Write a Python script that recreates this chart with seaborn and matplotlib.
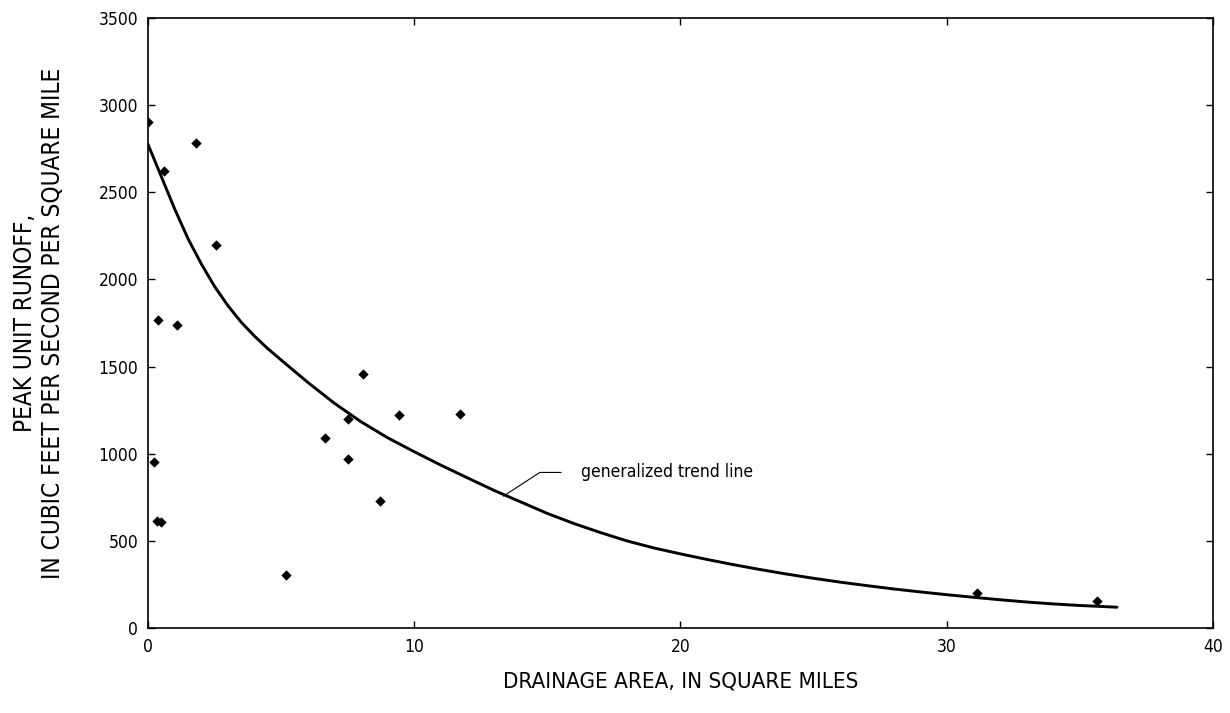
import seaborn as sns
import matplotlib.pyplot as plt
import pandas as pd

# observed sites
area = [0.0, 1.81, 0.60, 2.54, 0.36, 1.09, 8.08, 7.50, 9.43, 11.72, 6.64, 7.50,
        0.23, 8.70, 0.34, 0.49, 5.18, 31.16, 35.66]
runoff = [2900, 2780, 2620, 2200, 1770, 1740, 1460, 1200, 1220, 1230, 1090, 970,
          950, 730, 615, 610, 305, 200, 157]

# generalized trend line
trend_x = [0, 0.5, 1.0, 1.5, 2.0, 2.5, 3.0, 3.5, 4.0, 4.5, 5, 6, 7, 8, 9, 10,
           11, 12, 13, 14, 15, 16, 17, 18, 19, 20, 21, 22, 23, 24, 25, 26, 27,
           28, 29, 30, 31, 32, 33, 34, 35, 36, 36.4]
trend_y = [2775, 2590, 2405, 2235, 2090, 1960, 1850, 1755, 1675, 1603, 1538, 1410,
           1290, 1184, 1092, 1012, 935, 862, 790, 724, 658, 600, 548, 500, 460,
           426, 394, 364, 336, 310, 286, 264, 244, 225, 208, 192, 177, 163, 150,
           139, 130, 123, 120]

obs = pd.DataFrame({'area': area, 'runoff': runoff})
trend = pd.DataFrame({'area': trend_x, 'runoff': trend_y})

sns.set_style('ticks')
plt.rcParams['font.family'] = ['DejaVu Sans']
plt.rcParams['font.stretch'] = 'condensed'
plt.rcParams['text.color'] = 'black'
plt.rcParams['axes.labelcolor'] = 'black'

fig = plt.figure(figsize=(12.3, 7.13), dpi=100)
ax = fig.add_axes([0.1203, 0.119, 0.8657, 0.856])

sns.lineplot(data=trend, x='area', y='runoff', color='black', linewidth=2.1,
             sort=False, ax=ax)
sns.scatterplot(data=obs, x='area', y='runoff', marker='D', s=28, color='black',
                edgecolor='black', linewidth=0, ax=ax, zorder=3)

ax.set_xlim(0, 40)
ax.set_ylim(0, 3500)
ax.set_xticks([0, 10, 20, 30, 40])
ax.set_yticks(range(0, 3501, 500))
ax.tick_params(direction='in', top=True, right=True, length=5, width=1,
               labelsize=12.5, colors='black', pad=7)
for sp in ax.spines.values():
    sp.set_linewidth(1.2)
    sp.set_color('black')

ax.set_xlabel('DRAINAGE AREA, IN SQUARE MILES', fontsize=16, labelpad=11)
ax.set_ylabel('PEAK UNIT RUNOFF,\nIN CUBIC FEET PER SECOND PER SQUARE MILE',
              fontsize=17.5, labelpad=24, linespacing=1.22)

ax.annotate('generalized trend line', xy=(13.35, 757), xytext=(16.27, 893),
            fontsize=12.5, va='center', ha='left',
            arrowprops=dict(arrowstyle='-', color='black', lw=0.8,
                            connectionstyle='angle,angleA=0,angleB=33,rad=0',
                            shrinkA=12, shrinkB=0))

fig.savefig('out.png', dpi=100)
